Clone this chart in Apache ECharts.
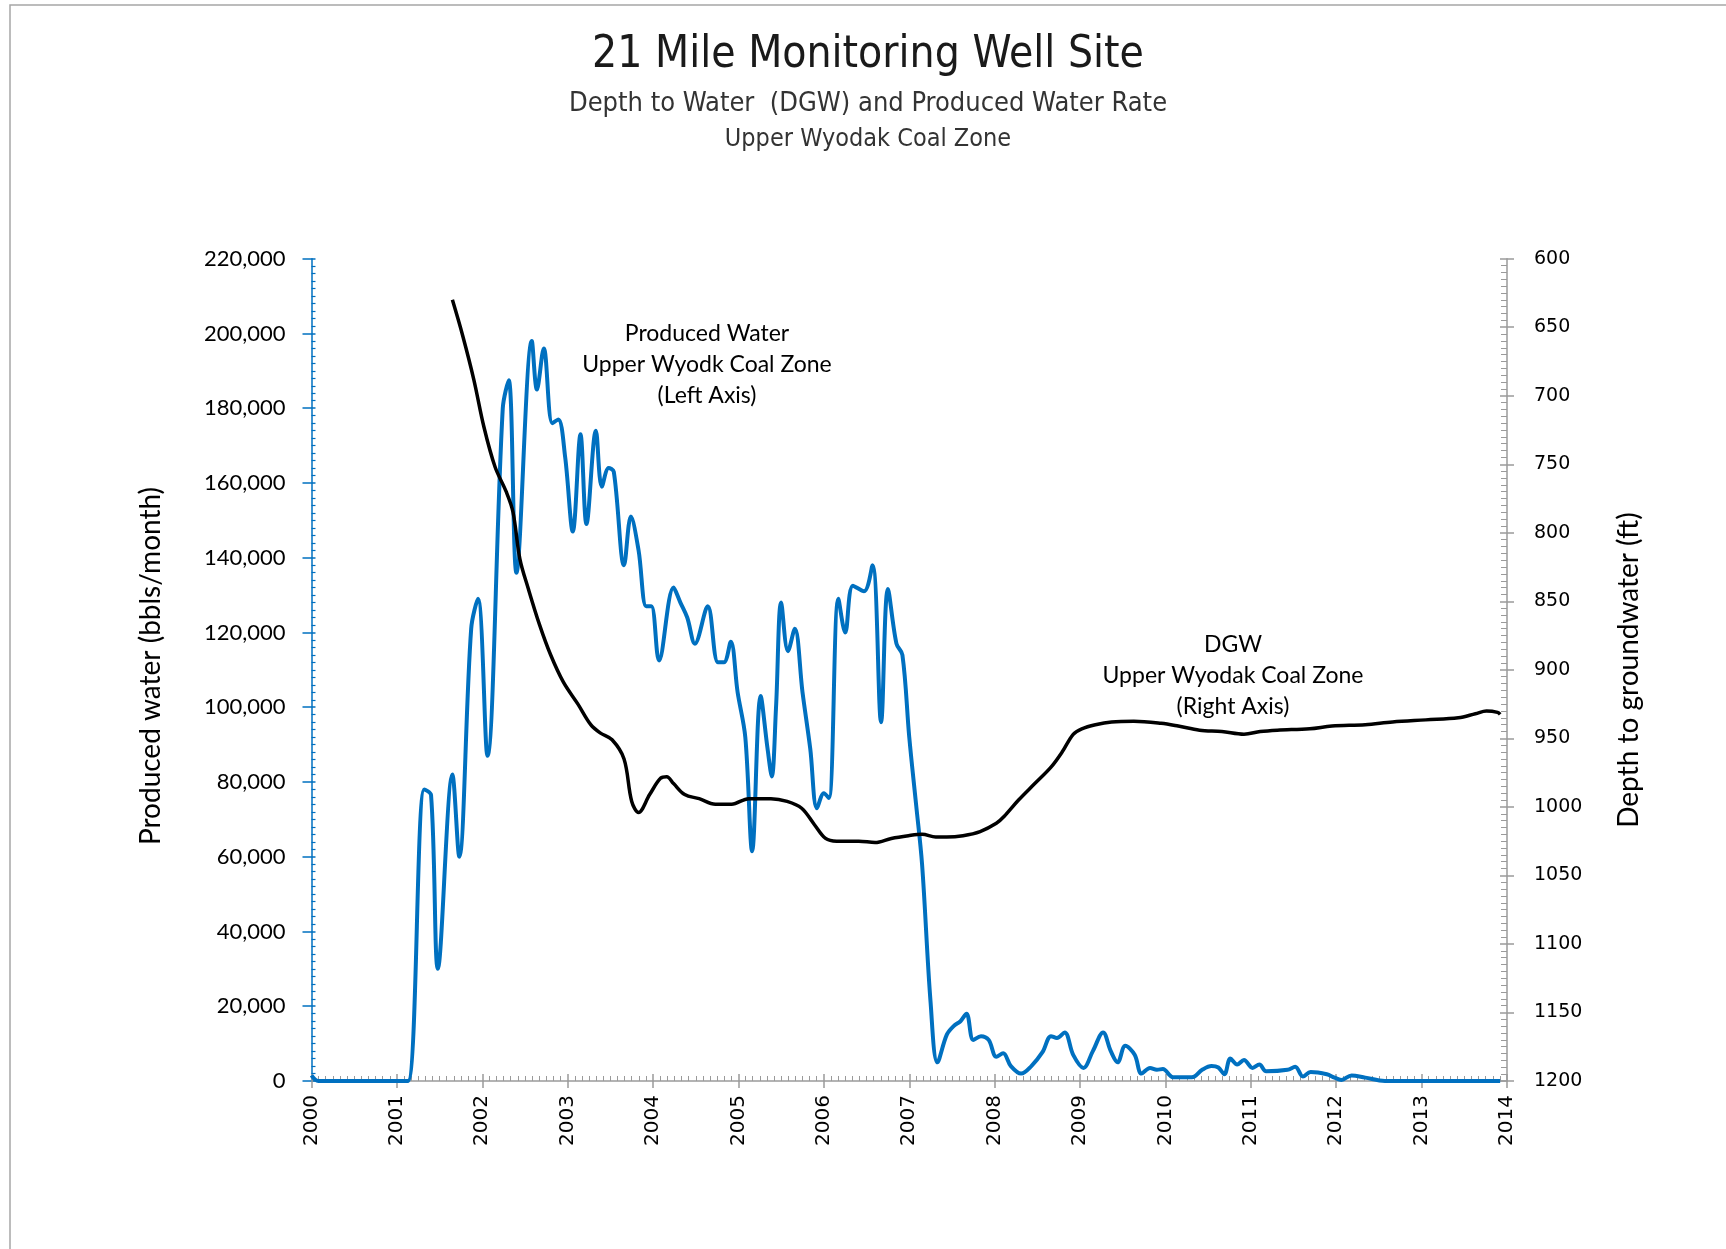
<!DOCTYPE html>
<html>
<head>
<meta charset="utf-8">
<script src="https://cdn.jsdelivr.net/npm/echarts@6/dist/echarts.min.js"></script>
<style>
html,body{margin:0;padding:0;background:#fff;}
#chart{width:1726px;height:1249px;}
</style>
</head>
<body>
<div id="chart"></div>
<script>
// ---- Data ----
// Produced water, Upper Wyodak Coal Zone (bbls/month), [decimal year, value]
const producedWater = [
  [2000.00,1500],[2000.08,0],[2000.50,0],[2001.00,0],[2001.13,0],
  [2001.32,78000],[2001.40,76500],[2001.48,30000],[2001.65,82000],[2001.73,60000],
  [2001.87,121000],[2001.95,129000],[2002.06,87000],[2002.24,180000],[2002.31,187500],
  [2002.40,136000],[2002.58,198000],[2002.64,185000],[2002.72,196000],[2002.82,176000],
  [2002.89,177000],[2002.97,167000],[2003.06,147000],[2003.15,173000],[2003.22,149000],
  [2003.33,174000],[2003.40,159000],[2003.48,164000],[2003.54,163000],[2003.66,138000],
  [2003.74,151000],[2003.83,142000],[2003.92,127000],[2003.98,127000],[2004.07,112500],
  [2004.24,132000],[2004.32,128000],[2004.40,124000],[2004.49,117000],[2004.64,127000],
  [2004.76,112000],[2004.83,112000],[2004.91,117500],[2004.99,104000],[2005.08,92000],
  [2005.16,61500],[2005.26,103000],[2005.34,89000],[2005.39,81500],[2005.44,100000],
  [2005.50,128000],[2005.58,115000],[2005.66,121000],[2005.75,104000],[2005.84,89000],
  [2005.92,73000],[2006.00,77000],[2006.06,75700],[2006.17,129000],[2006.25,120000],
  [2006.34,132500],[2006.47,131000],[2006.57,138000],[2006.67,96000],[2006.75,131600],
  [2006.85,117000],[2006.92,114000],[2007.00,92000],[2007.08,74000],[2007.15,58000],
  [2007.25,21000],[2007.33,5000],[2007.44,12400],[2007.52,14700],[2007.60,16000],
  [2007.67,18000],[2007.75,11000],[2007.84,12000],[2007.93,11000],[2008.02,6500],
  [2008.10,7400],[2008.19,4000],[2008.31,2000],[2008.43,4000],[2008.56,7700],
  [2008.66,12000],[2008.73,11500],[2008.82,13000],[2008.92,7000],[2009.04,3500],
  [2009.15,8000],[2009.27,13000],[2009.36,8000],[2009.44,5000],[2009.53,9400],
  [2009.64,7000],[2009.72,2000],[2009.82,3500],[2009.90,3000],[2009.97,3200],
  [2010.09,1000],[2010.31,1000],[2010.43,3000],[2010.54,4000],[2010.62,3600],
  [2010.69,1800],[2010.76,6000],[2010.84,4400],[2010.92,5600],[2011.02,3500],
  [2011.10,4400],[2011.18,2600],[2011.43,3000],[2011.52,3800],[2011.61,1200],
  [2011.70,2400],[2011.89,1800],[2011.98,900],[2012.06,300],[2012.18,1500],
  [2012.34,900],[2012.57,0],[2013.00,0],[2013.50,0],[2013.92,0]
];
// Depth to groundwater, Upper Wyodak Coal Zone (ft), [decimal year, depth]
const depthToWater = [
  [2001.65,630],[2001.77,656],[2001.90,688],[2002.02,723],[2002.15,752],
  [2002.28,770],[2002.36,785],[2002.44,819],[2002.54,841],[2002.67,867],
  [2002.80,889],[2002.95,909],[2003.12,925],[2003.27,940],[2003.38,946],
  [2003.52,951],[2003.66,965],[2003.75,996],[2003.83,1004],[2003.96,991],
  [2004.09,979],[2004.16,978],[2004.24,983],[2004.37,991],[2004.54,994],
  [2004.73,998],[2004.92,998],[2005.12,994],[2005.38,994],[2005.57,996],
  [2005.74,1001],[2005.89,1013],[2006.02,1023],[2006.15,1025],[2006.41,1025],
  [2006.60,1026],[2006.79,1023],[2006.99,1021],[2007.15,1020],[2007.31,1022],
  [2007.44,1022],[2007.63,1021],[2007.83,1018],[2008.02,1012],[2008.11,1007],
  [2008.28,995],[2008.47,983],[2008.66,971],[2008.79,960],[2008.92,947],
  [2009.02,943],[2009.18,940],[2009.37,938],[2009.63,937.5],[2009.95,939],
  [2010.15,941],[2010.40,944],[2010.66,945],[2010.92,947],[2011.11,945],
  [2011.31,944],[2011.69,943],[2011.95,941],[2012.34,940],[2012.66,938],
  [2013.05,936.5],[2013.43,935],[2013.63,932],[2013.76,930],[2013.89,931],
  [2013.92,932.5]
];
// Axis ranges / tick labels
const yearRange = [2000, 2014];
const waterRange = [0, 220000];
const depthRange = [600, 1200];

// ---- Chart ----
const BLUE = '#0070C0';
const GRAY = '#9A9A9A';
const chart = echarts.init(document.getElementById('chart'), null, {renderer: 'canvas'});

const gridPos = {left: 311.5, top: 258.7, right: 219, bottom: 168};
const condensed = '"Liberation Sans Narrow", "DejaVu Sans Condensed", sans-serif';

const option = {
  backgroundColor: '#ffffff',
  animation: false,
  grid: Object.assign({containLabel: false}, gridPos),
  xAxis: [
    {
      type: 'value', position: 'bottom', min: yearRange[0], max: yearRange[1], interval: 1,
      axisLine: {show: true, onZero: false, lineStyle: {color: GRAY, width: 1.5}},
      axisTick: {show: true, inside: false, length: 7, lineStyle: {color: GRAY, width: 1.5}},
      axisLabel: {rotate: 90, margin: 14, color: '#000', fontFamily: 'DejaVu Sans', fontSize: 20,
        formatter: v => String(Math.round(v))},
      splitLine: {show: false}
    },
    {
      type: 'value', position: 'bottom', min: yearRange[0], max: yearRange[1], interval: 1,
      axisLine: {show: false, onZero: false},
      axisTick: {show: true, inside: true, length: 7, lineStyle: {color: GRAY, width: 1.5}},
      minorTick: {show: true, splitNumber: 12, length: 5, lineStyle: {color: GRAY, width: 1}},
      axisLabel: {show: false},
      splitLine: {show: false}
    }
  ],
  yAxis: [
    {
      type: 'value', position: 'left', min: waterRange[0], max: waterRange[1], interval: 20000,
      axisLine: {show: true, onZero: false, lineStyle: {color: BLUE, width: 1.5}},
      axisTick: {show: true, inside: false, length: 9, lineStyle: {color: BLUE, width: 1.5}},
      axisLabel: {margin: 26, color: '#000', fontFamily: 'Lato', fontSize: 22,
        formatter: v => v.toLocaleString('en-US')},
      splitLine: {show: false}
    },
    {
      type: 'value', position: 'left', min: waterRange[0], max: waterRange[1], interval: 20000,
      axisLine: {show: false, onZero: false},
      axisTick: {show: true, inside: true, length: 4, lineStyle: {color: BLUE, width: 1.5}},
      minorTick: {show: true, splitNumber: 10, length: 4, lineStyle: {color: BLUE, width: 1.2}},
      axisLabel: {show: false},
      splitLine: {show: false}
    },
    {
      type: 'value', position: 'right', min: depthRange[0], max: depthRange[1], interval: 50, inverse: true,
      axisLine: {show: true, onZero: false, lineStyle: {color: GRAY, width: 1.5}},
      axisTick: {show: true, inside: false, length: 7, lineStyle: {color: GRAY, width: 1.5}},
      axisLabel: {margin: 27, color: '#000', fontFamily: 'DejaVu Sans', fontSize: 19,
        formatter: v => String(v)},
      splitLine: {show: false}
    },
    {
      type: 'value', position: 'right', min: depthRange[0], max: depthRange[1], interval: 50, inverse: true,
      axisLine: {show: false, onZero: false},
      axisTick: {show: true, inside: true, length: 7, lineStyle: {color: GRAY, width: 1.5}},
      minorTick: {show: true, splitNumber: 10, length: 6, lineStyle: {color: GRAY, width: 1}},
      axisLabel: {show: false},
      splitLine: {show: false}
    }
  ],
  series: [
    {
      name: 'Produced Water', type: 'line', xAxisIndex: 0, yAxisIndex: 0,
      data: producedWater, smooth: 0.35, showSymbol: false, symbol: 'none',
      lineStyle: {color: BLUE, width: 4}, z: 3
    },
    {
      name: 'DGW', type: 'line', xAxisIndex: 0, yAxisIndex: 2,
      data: depthToWater, smooth: 0.35, showSymbol: false, symbol: 'none',
      lineStyle: {color: '#000', width: 3.5}, z: 4
    }
  ],
  graphic: [
    {type: 'rect', silent: true, z: -10, shape: {x: 10, y: 5, width: 1800, height: 1400},
      style: {fill: 'none', stroke: '#A6A6A6', lineWidth: 1.5}},
    {type: 'text', x: 868, y: 56, style: {text: '21 Mile Monitoring Well Site', fill: '#1a1a1a',
      font: '44px ' + condensed, textAlign: 'center', textVerticalAlign: 'middle'}},
    {type: 'text', x: 868, y: 104, style: {text: 'Depth to Water  (DGW) and Produced Water Rate', fill: '#333',
      font: '27px ' + condensed, textAlign: 'center', textVerticalAlign: 'middle'}},
    {type: 'text', x: 868, y: 139, style: {text: 'Upper Wyodak Coal Zone', fill: '#333',
      font: '25px ' + condensed, textAlign: 'center', textVerticalAlign: 'middle'}},
    {type: 'text', x: 707, y: 334, style: {text: 'Produced Water', fill: '#000', font: '23px Lato', textAlign: 'center', textVerticalAlign: 'middle'}},
    {type: 'text', x: 707, y: 365, style: {text: 'Upper Wyodk Coal Zone', fill: '#000', font: '23px Lato', textAlign: 'center', textVerticalAlign: 'middle'}},
    {type: 'text', x: 707, y: 396, style: {text: '(Left Axis)', fill: '#000', font: '23px Lato', textAlign: 'center', textVerticalAlign: 'middle'}},
    {type: 'text', x: 1233, y: 645, style: {text: 'DGW', fill: '#000', font: '23px Lato', textAlign: 'center', textVerticalAlign: 'middle'}},
    {type: 'text', x: 1233, y: 676, style: {text: 'Upper Wyodak Coal Zone', fill: '#000', font: '23px Lato', textAlign: 'center', textVerticalAlign: 'middle'}},
    {type: 'text', x: 1233, y: 707, style: {text: '(Right Axis)', fill: '#000', font: '23px Lato', textAlign: 'center', textVerticalAlign: 'middle'}},
    {type: 'text', x: 151, y: 666, rotation: Math.PI / 2, style: {text: 'Produced water (bbls/month)', fill: '#000',
      font: '28px Lato', textAlign: 'center', textVerticalAlign: 'middle'}},
    {type: 'text', x: 1629, y: 670, rotation: Math.PI / 2, style: {text: 'Depth to groundwater (ft)', fill: '#000',
      font: '28px Lato', textAlign: 'center', textVerticalAlign: 'middle'}}
  ]
};
chart.setOption(option);
</script>
</body>
</html>
